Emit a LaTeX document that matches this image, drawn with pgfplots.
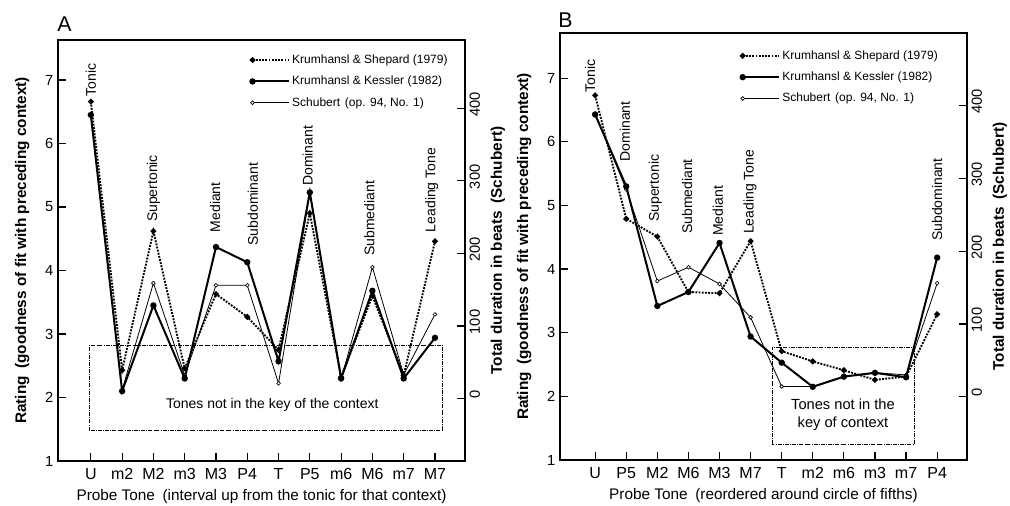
\documentclass[border=0pt]{standalone}
\usepackage{fontspec}
\setmainfont{Liberation Sans}
\usepackage{pgfplots}
\usepackage{pgfplotstable}
\pgfplotsset{compat=1.18}

% panel A: order U m2 M2 m3 M3 P4 T P5 m6 M6 m7 M7
\pgfplotstableread{
x  ks    kk    sch
0  6.66  6.45  390
1  2.43  2.10  12
2  4.62  3.45  159
3  2.46  2.30  32
4  3.63  4.37  156
5  3.27  4.13  156
6  2.75  2.57  21
7  4.90  5.23  283
8  2.32  2.30  27
9  3.60  3.68  181
10 2.35  2.30  33
11 4.46  2.94  116
}\panelA
% panel B: order U P5 M2 M6 M3 M7 T m2 m6 m3 m7 P4
\pgfplotstableread{
x  ks    kk    sch
0  6.73  6.43  389
1  4.79  5.30  285
2  4.51  3.42  159
3  3.64  3.64  178
4  3.62  4.41  155
5  4.44  2.94  109
6  2.71  2.53  14
7  2.55  2.15  14
8  2.41  2.31  28
9  2.26  2.37  33
10 2.31  2.30  30
11 3.29  4.18  156
}\panelB

\pgfplotsset{
  ksstyle/.style={densely dotted, line width=1.4pt, black, mark=*, mark size=1.4pt, mark options={solid}},
  kkstyle/.style={solid, line width=1.5pt, black, mark=*, mark size=1.6pt},
  schstyle/.style={solid, line width=0.6pt, black, mark=*, mark size=1.4pt, mark options={fill=white, line width=0.5pt}},
  common/.style={
    scale only axis, width=305.25pt,
    xtick={0,...,11},
    tick align=inside,
    major tick length=6pt,
    tick style={line width=0.9pt, black},
    axis line style={line width=1.1pt},
    /pgf/number format/assume math mode=true,
    yticklabel style={font=\fontsize{11}{13}\selectfont},
  },
  left/.style={
    common,
    xtick pos=left, ytick pos=left,
    ymin=1, ytick={1,...,7},
    xticklabel style={font=\fontsize{12}{14}\selectfont, yshift=-2pt},
    every axis y label/.style={at={(axis description cs:-0.088,0.5)}, rotate=90, anchor=center, font=\fontsize{11.5}{13}\selectfont\bfseries},
    every axis x label/.style={at={(axis description cs:0.5,0)}, anchor=center, yshift=-27pt, font=\fontsize{11.5}{13}\selectfont},
    ylabel={Rating\hspace{0.5em}(goodness of fit with preceding context)},
    legend style={draw=none, fill=none, font=\fontsize{9}{11}\selectfont, row sep=4pt, anchor=north west, inner sep=0pt},
    legend cell align=left,
    legend image code/.code={\draw[mark repeat=2,mark phase=1,##1] plot coordinates {(0pt,0pt)(27pt,0pt)};},
  },
  right/.style={
    common,
    axis x line=none, axis y line*=right,
    ytick={0,100,200,300,400},
    yticklabel style={rotate=90, anchor=north, xshift=3pt},
    every axis y label/.style={at={(axis description cs:1.081,0.5)}, rotate=90, anchor=center, font=\fontsize{11.5}{13}\selectfont\bfseries},
    ylabel={Total duration in beats\hspace{0.5em}(Schubert)},
  },
}

\begin{document}
\begin{tikzpicture}
\useasboundingbox (0,0) rectangle (757.5pt,379.5pt);

% ---------------- panel A ----------------
\begin{axis}[right, at={(43.5pt,33.75pt)}, anchor=south west, height=315.75pt,
  xmin=-1.05, xmax=11.96, ymin=-86, ymax=494]
\addplot[schstyle] table[x=x, y=sch] {\panelA};
\end{axis}
\begin{axis}[left, at={(43.5pt,33.75pt)}, anchor=south west, height=315.75pt,
  xmin=-1.05, xmax=11.96, ymax=7.63,
  xticklabels={U,m2,M2,m3,M3,P4,T,P5,m6,M6,m7,M7},
  xlabel={Probe Tone\hspace{0.5em}(interval up from the tonic for that context)},
  legend style={at={(axis description cs:0.472,0.972)}}]
\addplot[ksstyle] table[x=x, y=ks] {\panelA};
\addplot[kkstyle] table[x=x, y=kk] {\panelA};
\addlegendimage{schstyle}
\legend{Krumhansl \& Shepard (1979), Krumhansl \& Kessler (1982), {Schubert\hspace{0.4em}(op. 94, No. 1)}}
\draw[densely dashdotted, line width=0.7pt] (axis cs:-0.03,1.48) rectangle (axis cs:11.25,2.82);
\node[font=\fontsize{10.5}{12}\selectfont] at (axis cs:5.8,1.88) {Tones not in the key of the context};
\begin{scope}[every node/.style={rotate=90, anchor=west, inner sep=0pt, font=\fontsize{10.5}{12}\selectfont}]
\node at (axis cs:0,6.74) {Tonic};
\node at (axis cs:2,4.76) {Supertonic};
\node at (axis cs:3.97,4.6) {Mediant};
\node at (axis cs:5.18,4.39) {Subdominant};
\node at (axis cs:6.93,5.33) {Dominant};
\node at (axis cs:8.9,4.23) {Submediant};
\node at (axis cs:10.9,4.6) {Leading Tone};
\end{scope}
\end{axis}
\node[anchor=south west, inner sep=0pt, font=\fontsize{16}{18}\selectfont] at (42.75pt,356pt) {A};

% ---------------- panel B ----------------
\begin{axis}[right, at={(420pt,34.5pt)}, anchor=south west, height=320.25pt,
  xmin=-1.13, xmax=11.96, ymin=-87, ymax=500]
\addplot[schstyle] table[x=x, y=sch] {\panelB};
\end{axis}
\begin{axis}[left, at={(420pt,34.5pt)}, anchor=south west, height=320.25pt,
  xmin=-1.13, xmax=11.96, ymax=7.71,
  xticklabels={U,P5,M2,M6,M3,M7,T,m2,m6,m3,m7,P4},
  xlabel={Probe Tone\hspace{0.5em}(reordered around circle of fifths)},
  legend style={at={(axis description cs:0.443,0.966)}}]
\addplot[ksstyle] table[x=x, y=ks] {\panelB};
\addplot[kkstyle] table[x=x, y=kk] {\panelB};
\addlegendimage{schstyle}
\legend{Krumhansl \& Shepard (1979), Krumhansl \& Kessler (1982), {Schubert\hspace{0.4em}(op. 94, No. 1)}}
\draw[densely dashdotted, line width=0.7pt] (axis cs:5.69,1.25) rectangle (axis cs:10.26,2.77);
\node[font=\fontsize{11}{13}\selectfont, align=center] at (axis cs:7.97,1.71) {Tones not in the\\key of context};
\begin{scope}[every node/.style={rotate=90, anchor=west, inner sep=0pt, font=\fontsize{10.5}{12}\selectfont}]
\node at (axis cs:-0.16,6.77) {Tonic};
\node at (axis cs:0.96,5.69) {Dominant};
\node at (axis cs:1.93,4.74) {Supertonic};
\node at (axis cs:2.96,4.55) {Submediant};
\node at (axis cs:3.95,4.52) {Mediant};
\node at (axis cs:4.98,4.55) {Leading Tone};
\node at (axis cs:11,4.44) {Subdominant};
\end{scope}
\end{axis}
\node[anchor=south west, inner sep=0pt, font=\fontsize{16}{18}\selectfont] at (418.5pt,358.5pt) {B};
\end{tikzpicture}
\end{document}
